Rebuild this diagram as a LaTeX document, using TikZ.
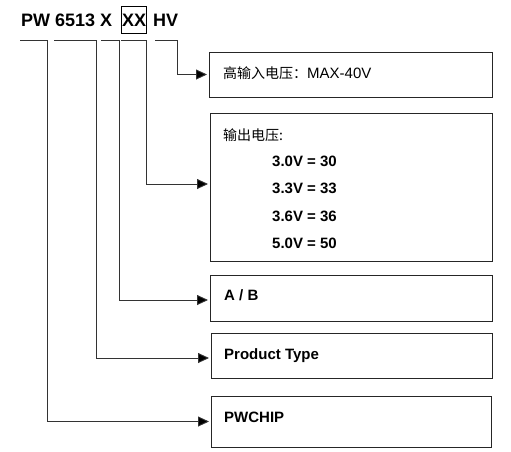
\documentclass[tikz,border=0pt]{standalone}
\usepackage{fontspec}
\setmainfont{Liberation Sans}
\newfontfamily\cjk{Noto Sans CJK SC}
\usetikzlibrary{arrows.meta}
\tikzset{
	box/.style={draw=black!85, line width=1pt, inner sep=0pt},
	link/.style={draw=black!80, line width=0.9pt, -{Triangle[length=11pt,width=10pt,fill=black]}, shorten >=1.5pt},
	lbl/.style={anchor=base west, inner sep=0pt, font=\fontsize{15}{18}\selectfont\bfseries},
	ttl/.style={anchor=base west, inner sep=0pt, font=\fontsize{18}{22}\selectfont\bfseries}
}

\begin{document}
\begin{tikzpicture}[x=1pt, y=-1pt]
			%%%%% START %%%%%
			\useasboundingbox (0, 0) rectangle (511, 451);
			
			\node[ttl] (pw) at (21, 26.7) {PW 6513 X};
			\node[ttl] (xx) at (122, 26.7) {XX};
			\node[ttl] (hv) at (153, 26.7) {HV};
			\draw[line width=0.9pt] (121, 6) rectangle (146, 33);
			
			\node[box, minimum width=283, minimum height=45] (vin) at (350.5, 74.5) {};
			\node[box, minimum width=282, minimum height=148] (vout) at (351, 187) {};
			\node[box, minimum width=282, minimum height=46] (ab) at (351, 298) {};
			\node[box, minimum width=281, minimum height=45] (type) at (351.5, 355.5) {};
			\node[box, minimum width=280, minimum height=51] (brand) at (351, 421.5) {};
			
			\node[anchor=base west, inner sep=0pt] (vintxt) at (223, 78.5) {\fontsize{14}{17}\selectfont\cjk 高输入电压：\fontsize{15}{18}\selectfont\rmfamily MAX-40V};
			
			\node[anchor=base west, inner sep=0pt] (vouttxt) at (223, 140) {\fontsize{14}{17}\selectfont\cjk 输出电压:};
			\node[lbl] (v30) at (272, 166.7) {3.0V = 30};
			\node[lbl] (v33) at (272, 193.6) {3.3V = 33};
			\node[lbl] (v36) at (272, 221) {3.6V = 36};
			\node[lbl] (v50) at (272, 248.3) {5.0V = 50};
			
			\node[lbl] (abtxt) at (224, 300.7) {A / B};
			\node[lbl] (typetxt) at (224, 359.3) {Product Type};
			\node[lbl] (brandtxt) at (224, 422.3) {PWCHIP};
			
			\coordinate (u1) at (20, 40);
			\coordinate (u2) at (54, 40);
			\coordinate (u3) at (101, 40);
			\coordinate (u4) at (121, 40);
			\coordinate (u5) at (155, 40);
			
			\draw[link] (u1) -- ++(27, 0) |- (brand.west);
			\draw[link] (u2) -- ++(42, 0) |- ([yshift=-2.5pt]type.west);
			\draw[link] (u3) -- ++(18, 0) |- ([yshift=-2pt]ab.west);
			\draw[link] (u4) -- ++(25, 0) |- ([yshift=3pt]vout.west);
			\draw[link] (u5) -- ++(22, 0) |- (vin.west);
			
			%%%%% END %%%%%
		\end{tikzpicture}
\end{document}
